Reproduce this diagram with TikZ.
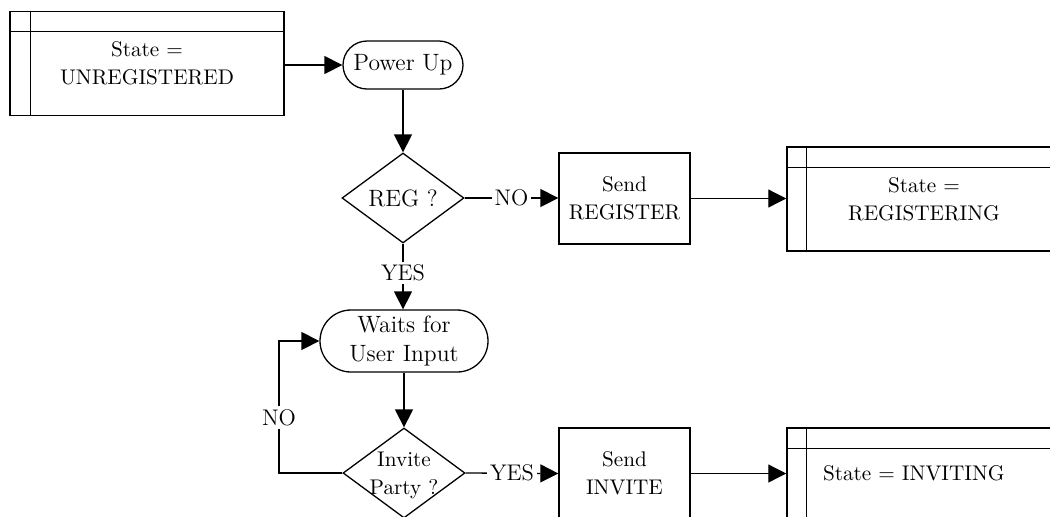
\documentclass[tikz,border=0pt]{standalone}
\usetikzlibrary{arrows.meta,shapes.geometric}
\begin{document}
\begin{tikzpicture}[x=0.5pt,y=-0.5pt,
  every node/.style={font=\fontsize{10.6}{14}\selectfont},
  bigtext/.style={font=\fontsize{11.8}{14.8}\selectfont},
  line/.style={line width=0.65pt},
  arr/.style={line, -{Triangle[length=9pt,width=9pt]}},
  statebox/.style={draw, line width=0.75pt, minimum width=137pt, minimum height=52pt, align=center, inner sep=0pt},
  procbox/.style={draw, line width=0.65pt, minimum width=65.5pt, minimum height=45.5pt, align=center, inner sep=0pt},
  term/.style={draw, line width=0.65pt, rectangle, align=center, inner sep=0pt, bigtext},
  decision/.style={draw, line width=0.65pt, diamond, minimum width=61pt, minimum height=45pt, inner sep=0pt},
  edgelabel/.style={fill=white, inner sep=1.5pt, font=\fontsize{11.3}{14}\selectfont}]
\useasboundingbox (0,0) rectangle (1050,516);
\clip (0,0) rectangle (1050,516);

% state boxes with a header row and a side column
\node[statebox] (unreg) at (147,63.5) {State =\\UNREGISTERED};
\draw[line] (unreg.north west) ++(0,21) -- ++(274,0);
\draw[line] (unreg.north west) ++(21,0) -- ++(0,105);

\node[statebox] (registering) at (924,199) {State =\\REGISTERING};
\draw[line] (registering.north west) ++(0,21) -- ++(274,0);
\draw[line] (registering.north west) ++(20,0) -- ++(0,104);

\node[statebox] (inviting) at (924,480) {};
\node[anchor=west] (invtext) at (816,473) {State = INVITING};
\draw[line] (inviting.north west) ++(0,21) -- ++(274,0);
\draw[line] (inviting.north west) ++(20,0) -- ++(0,104);

% terminators
\node[term, minimum width=60pt, minimum height=24pt, rounded corners=12pt] (power) at (403,65) {Power Up};
\node[term, minimum width=84pt, minimum height=31pt, rounded corners=15.5pt] (wait) at (404,341) {Waits for\\User Input};

% decisions
\node[decision] (reg) at (403,198) {};
\node[bigtext] (regtext) at (403,198) {REG ?};
\node[decision] (invite) at (404,473) {};
\node[align=center] (invitetext) at (404,475) {Invite\\Party ?};

% actions
\node[procbox] (sendreg) at (624.5,198.5) {Send\\REGISTER};
\node[procbox] (sendinv) at (624.5,473.5) {Send\\INVITE};

% connectors
\draw[arr] (unreg.east |- power.west) -- (power.west);
\draw[arr] (power.south) -- (reg.north);
\draw[arr] (reg.east) -- node[edgelabel] {NO} (reg.east -| sendreg.west);
\draw[arr] (sendreg.east) -- (sendreg.east -| registering.west);
\draw[arr] (reg.south) -- node[edgelabel, pos=0.45] {YES} (reg.south |- wait.north);
\draw[arr] (wait.south) -- (invite.north);
\coordinate (loop) at (279,473);
\draw[arr] (invite.west) -- (loop) -- node[edgelabel, pos=0.42] {NO} (loop |- wait.west) -- (wait.west);
\draw[arr] (invite.east) -- node[edgelabel] {YES} (sendinv.west);
\draw[arr] (sendinv.east) -- (sendinv.east -| inviting.west);
\end{tikzpicture}
\end{document}
